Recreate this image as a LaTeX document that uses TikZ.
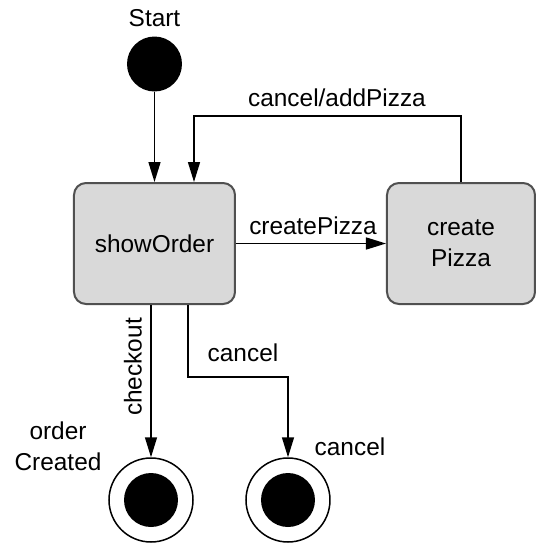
\documentclass[tikz,border=0pt]{standalone}
\usepackage{fontspec}
\setmainfont{Liberation Sans}
\usetikzlibrary{arrows.meta,calc}
\definecolor{boxfill}{HTML}{D9D9D9}
\definecolor{boxline}{HTML}{505050}
\begin{document}
\begin{tikzpicture}[x=0.5pt,y=-0.5pt,
  every node/.style={font=\fontsize{12.2}{14.6}\selectfont, inner sep=0pt},
  state/.style={draw=boxline, line width=1pt, fill=boxfill, rounded corners=6pt, align=center},
  arr/.style={draw=black, line width=0.75pt, -{Triangle[length=10pt,width=6pt]}},
  initst/.style={circle, fill=black, minimum size=27.5pt},
  finalst/.style={circle, draw=black, line width=0.75pt, fill=white, minimum size=42pt},
  finalin/.style={circle, fill=black, minimum size=27pt},
  lbl/.style={align=center}
]
\path[use as bounding box] (0,0) rectangle (538,543);

\node[lbl] (startlbl) at (154.5,18) {Start};
\node[initst] (start) at (154.5,64) {};

\node[state, minimum width=80.5pt, minimum height=60.5pt] (show) at (154.5,243.5) {showOrder};
\node[state, minimum width=74pt, minimum height=60.5pt] (create) at (461,243.5) {create\\[1pt]Pizza};

\node[finalst] (fin1) at (151,500) {};
\node[finalin] (fin1in) at (fin1) {};
\node[finalst] (fin2) at (288,500) {};
\node[finalin] (fin2in) at (fin2) {};

\coordinate (t1) at (194,116);
\coordinate (c1) at (188,377);

\draw[arr] (start) -- (start |- show.north);
\draw[arr] (create.north) |- (t1) -- (t1 |- show.north);
\draw[arr] (show.east) -- (create.west);
\draw[arr] (show.south -| fin1) -- (fin1.north);
\draw[arr] (c1 |- show.south) -- (c1) -| (fin2.north);

\node[lbl] (l1) at (337,98) {cancel/addPizza};
\node[lbl] (l2) at (313,226) {createPizza};
\node[lbl, rotate=90] (l3) at (133,367) {checkout};
\node[lbl] (l4) at (243,353) {cancel};
\node[lbl] (l5) at (58,446) {order\\[1pt]Created};
\node[lbl] (l6) at (350,447) {cancel};
\end{tikzpicture}
\end{document}
